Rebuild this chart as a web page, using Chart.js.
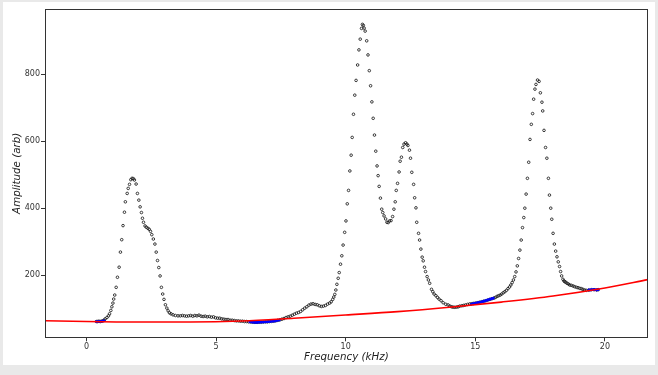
<!DOCTYPE html>
<html>
<head>
<meta charset="utf-8">
<script src="https://cdn.jsdelivr.net/npm/chart.js@4.4.1/dist/chart.umd.min.js"></script>
<style>
  body { margin: 0; background: #e9e9e9; width: 658px; height: 375px; overflow: hidden; }
  #wrap { position: absolute; left: 3px; top: 2px; width: 652px; height: 363px; background: #fff; }
</style>
</head>
<body>
<div id="wrap"><canvas id="chart" width="652" height="363"></canvas></div>
<script>
// measured spectrum (kHz, arb)
const freq = [
  0.38, 0.43, 0.48, 0.53, 0.58, 0.63, 0.68,
  0.72, 0.79, 0.85, 0.89, 0.94, 0.98, 1.02, 1.05, 1.09, 1.145, 1.195, 1.26, 1.31, 1.36, 1.41, 1.465, 1.50, 1.57, 1.61, 1.66, 1.71, 1.76, 1.81, 1.85,
  1.915, 1.965, 2.02, 2.07, 2.12, 2.16, 2.20, 2.26, 2.31, 2.37, 2.42, 2.47, 2.52, 2.58, 2.64, 2.69, 2.74, 2.79, 2.84, 2.89, 2.94, 2.99, 3.045, 3.10, 3.15, 3.20, 3.26, 3.34, 3.43, 3.53,
  3.62, 3.70, 3.78, 3.86, 3.94, 4.02, 4.10, 4.18, 4.26, 4.34, 4.42, 4.50, 4.58, 4.66, 4.74, 4.82, 4.90, 4.98, 5.06, 5.14, 5.22, 5.30, 5.38, 5.46, 5.54, 5.62, 5.70, 5.78, 5.86, 5.94,
  6.02, 6.10, 6.18, 6.26, 6.34, 6.42, 6.50, 6.58, 6.66, 6.74, 6.82, 6.90, 6.98, 7.06, 7.14, 7.22, 7.30, 7.38, 7.46, 7.54, 7.62, 7.70, 7.78, 7.86, 7.94,
  8.02, 8.10, 8.18, 8.26, 8.34, 8.42, 8.50, 8.58, 8.66, 8.74, 8.82, 8.90, 8.98, 9.06, 9.14, 9.22, 9.30, 9.38, 9.44, 9.50, 9.54,
  9.58, 9.62, 9.66, 9.71, 9.75, 9.80, 9.85, 9.90, 9.96, 10.01, 10.06, 10.11, 10.16, 10.21, 10.25, 10.30, 10.35, 10.40, 10.46, 10.51, 10.56, 10.61, 10.645, 10.68, 10.71,
  10.75, 10.81, 10.86, 10.91, 10.96, 11.01, 11.06, 11.11, 11.16, 11.21, 11.25, 11.29, 11.34, 11.39, 11.43, 11.48, 11.54, 11.59, 11.64, 11.69, 11.75,
  11.81, 11.86, 11.91, 11.95, 12.00, 12.06, 12.10, 12.15, 12.20, 12.25, 12.31, 12.36, 12.40,
  12.46, 12.50, 12.55, 12.62, 12.66, 12.71, 12.74, 12.81, 12.85, 12.90, 12.95, 12.99, 13.04, 13.08, 13.14, 13.19, 13.24, 13.31, 13.36, 13.41, 13.48, 13.54, 13.60, 13.68, 13.76, 13.86, 13.95,
  14.02, 14.08, 14.14, 14.21, 14.28, 14.34, 14.40, 14.48, 14.55, 14.62, 14.70, 14.78, 14.85, 14.92, 15.00, 15.08, 15.16, 15.24, 15.32, 15.40, 15.48, 15.56, 15.64, 15.72, 15.78, 15.84, 15.90, 15.96,
  16.02, 16.08, 16.14, 16.20, 16.26, 16.32, 16.37, 16.42, 16.47, 16.52, 16.57, 16.62, 16.67, 16.72, 16.77, 16.82, 16.87, 16.91, 16.96, 17.01, 17.06, 17.11, 17.16, 17.21, 17.25, 17.30, 17.34, 17.40, 17.46,
  17.51, 17.57, 17.60, 17.65, 17.71, 17.76, 17.82, 17.86, 17.91, 17.95, 18.00, 18.05, 18.10, 18.15, 18.20, 18.25, 18.29, 18.33, 18.38, 18.42, 18.45, 18.49, 18.54, 18.59, 18.64, 18.70, 18.77, 18.83, 18.90, 18.96,
  19.03, 19.09, 19.15, 19.22, 19.28, 19.38, 19.48, 19.58, 19.68, 19.74
];
const amp = [
  62, 62, 63, 62, 63, 64, 66,
  70, 74, 79, 85, 95, 106, 117, 129, 141, 164, 194, 224, 269, 306, 348, 388, 419, 444, 459, 471, 485, 489, 488, 484,
  472, 444, 424, 404, 387, 370, 358, 347, 343, 340, 337, 331, 321, 308, 293, 269, 244, 223, 198, 164, 144, 128, 112, 102, 94, 88, 85, 82, 80, 79,
  79, 80, 79, 78, 79, 80, 78, 80, 79, 81, 78, 77, 78, 76, 77, 75, 76, 73, 72, 72, 70, 69, 68, 68, 66, 66, 65, 64, 64, 63,
  63, 62, 62, 61, 60.5, 60, 59.5, 59.5, 60, 60, 60.5, 61, 61, 62, 62.5, 63, 64, 65.5, 67, 69, 71, 74, 76, 78, 81,
  84, 87, 89, 92, 97, 102, 106, 111, 114, 115, 113, 112, 109, 107, 108, 110, 114, 117, 121, 128, 135,
  143, 156, 173, 191, 208, 233, 258, 290, 328, 362, 413, 453, 511, 558, 611, 680, 737, 781, 827, 872, 904, 936, 948, 945, 937,
  928, 899, 857, 810, 765, 717, 668, 618, 570, 526, 497, 465, 430, 397, 387, 377, 368, 358, 357, 362, 363,
  375, 397, 419, 453, 474, 508, 540, 552, 581, 591, 595, 591, 587,
  573, 549, 507, 471, 431, 401, 358, 325, 305, 278, 254, 243, 224, 211, 196, 186, 176, 158, 151, 144, 139, 134, 129, 124, 118, 113.5, 111.5,
  108, 106, 105, 104.5, 105, 106, 108, 109, 110, 111.5, 113, 114.5, 115, 116, 117, 118, 119.5, 121, 122.5, 124, 126, 128, 130, 132, 134, 137, 139, 141,
  144, 148, 151, 155, 160, 165, 171, 178, 186, 196, 210, 228, 250, 275, 305, 342, 372, 400, 442, 489, 537, 605, 650, 682, 725, 755, 769, 782, 778,
  744, 716, 690, 632, 581, 549, 489, 439, 400, 367, 325, 293, 272, 255, 240, 226, 211, 198, 188, 183, 181, 179, 176, 174, 171, 170, 168, 166, 164, 163,
  161, 160, 158, 156, 155, 156, 157, 157, 156, 157
];

// points used for the baseline fit
const fitFreq = [
  0.38, 0.44, 0.50, 0.56, 0.62, 0.68,
  6.30, 6.36, 6.42, 6.48, 6.54, 6.60, 6.66, 6.72, 6.78, 6.84, 6.90, 6.96, 7.02, 7.08, 7.14, 7.20, 7.26, 7.32, 7.38, 7.44,
  14.85, 14.91, 14.97, 15.03, 15.09, 15.15, 15.21, 15.27, 15.33, 15.39, 15.45, 15.51, 15.57, 15.63, 15.69,
  19.38, 19.44, 19.50, 19.56, 19.62, 19.68, 19.74
];
const fitAmp = [
  62, 62, 62.5, 62.5, 63, 64,
  61, 60.5, 60, 59.5, 59.5, 59.5, 60, 60, 60.5, 60.5, 61, 61, 61.5, 62, 62.5, 63, 63.5, 64.5, 65.5, 66.5,
  114, 115, 116, 117, 118, 119, 120, 121.5, 122.5, 124, 125.5, 127, 128.5, 130, 131.5,
  156, 156, 157, 157, 157, 156, 157
];

// baseline curve
const baseFreq = [-1.6, 0, 2, 4, 6, 8, 10, 12, 14, 16, 18, 20, 21.65];
const baseAmp = [64.5, 62, 60.5, 60.5, 63.5, 72, 81.5, 91.5, 104.5, 120, 138, 162, 187];

const xTicks = [0, 5, 10, 15, 20];
const yTicks = [200, 400, 600, 800];

const font = 'DejaVu Sans';
const ink = '#333';

const frame = {
  id: 'frame',
  afterDatasetsDraw(chart) {
    const a = chart.chartArea;
    const ctx = chart.ctx;
    ctx.save();
    ctx.strokeStyle = ink;
    ctx.lineWidth = 1;
    ctx.strokeRect(Math.round(a.left) + 0.5, Math.round(a.top) + 0.5,
      Math.round(a.right - a.left) - 1, Math.round(a.bottom - a.top));
    ctx.restore();
  }
};

const zip = (xs, ys) => xs.map((x, i) => ({ x, y: ys[i] }));

new Chart(document.getElementById('chart'), {
  type: 'scatter',
  data: {
    datasets: [
      {
        data: zip(baseFreq, baseAmp),
        showLine: true,
        borderColor: '#ff0000',
        borderWidth: 1.6,
        pointRadius: 0,
        cubicInterpolationMode: 'monotone',
        order: 0
      },
      {
        data: zip(fitFreq, fitAmp),
        pointRadius: 1.4,
        pointBorderWidth: 0,
        backgroundColor: '#0000ff',
        borderColor: '#0000ff',
        order: 1
      },
      {
        data: zip(freq, amp),
        pointRadius: 1.3,
        pointBorderWidth: 0.85,
        borderColor: '#1a1a1a',
        backgroundColor: 'rgba(255,255,255,0)',
        order: 2
      }
    ]
  },
  options: {
    responsive: false,
    devicePixelRatio: 1,
    animation: false,
    events: [],
    layout: { padding: { top: 7.3, right: 7.3, left: 0, bottom: 0 } },
    plugins: { legend: { display: false }, tooltip: { enabled: false } },
    scales: {
      x: {
        type: 'linear',
        min: -1.6,
        max: 21.65,
        afterFit: s => { s.height = 27.7; },
        afterBuildTicks: s => { s.ticks = xTicks.map(v => ({ value: v })); },
        grid: { drawOnChartArea: false, drawTicks: true, tickLength: 4, color: ink },
        border: { display: true, color: ink, width: 1 },
        ticks: { color: ink, padding: 1, maxRotation: 0, font: { family: font, size: 8 }, callback: v => v },
        title: { display: true, text: 'Frequency (kHz)', color: '#222', padding: { top: 0, bottom: 1.8 },
          font: { family: font, size: 10.3, style: 'italic' } }
      },
      y: {
        type: 'linear',
        min: 15,
        max: 993,
        afterFit: s => { s.width = 42; },
        afterBuildTicks: s => { s.ticks = yTicks.map(v => ({ value: v })); },
        grid: { drawOnChartArea: false, drawTicks: true, tickLength: 4, color: ink },
        border: { display: true, color: ink, width: 1 },
        ticks: { color: ink, padding: 1, font: { family: font, size: 8 }, callback: v => v },
        title: { display: true, text: 'Amplitude (arb)', color: '#222', padding: { top: 7.8, bottom: 0 },
          font: { family: font, size: 10.3, style: 'italic' } }
      }
    }
  },
  plugins: [frame]
});
</script>
</body>
</html>
